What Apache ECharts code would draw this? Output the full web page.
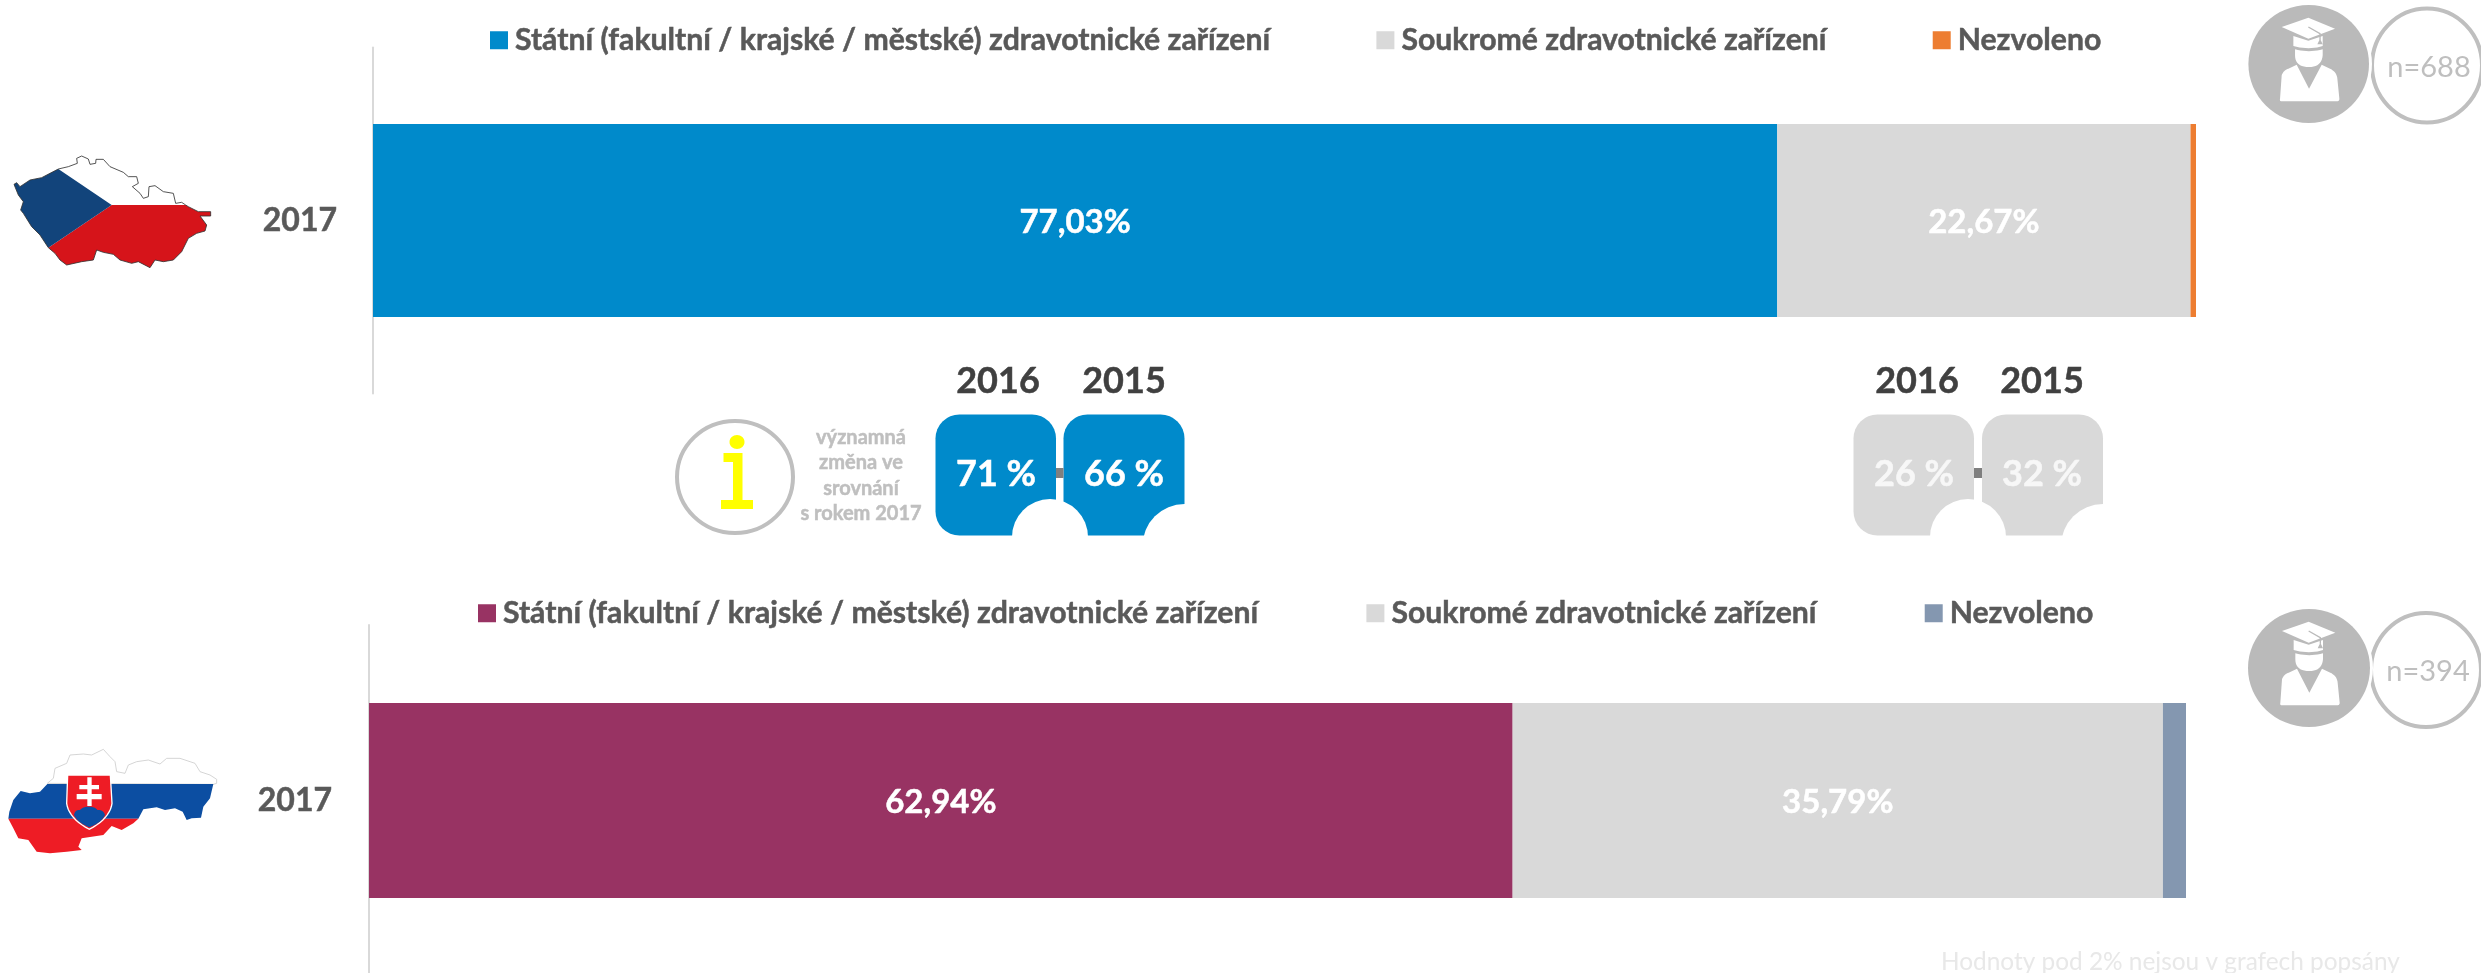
<!DOCTYPE html>
<html lang="cs">
<head>
<meta charset="utf-8">
<title>Zdravotnické zařízení 2017</title>
<style>html,body{margin:0;padding:0;background:#fff}#chart{width:2481px;height:973px}</style>
<script src="https://cdn.jsdelivr.net/npm/echarts@6/dist/echarts.min.js"></script>
</head>
<body>
<div id="chart"></div>
<script>
// ---- data ----
const seriesNames = ['Státní (fakultní / krajské / městské) zdravotnické zařízení', 'Soukromé zdravotnické zařízení', 'Nezvoleno'];
const yearLabels = ['2017'];
const czValues = [77.03, 22.67, 0.30];
const skValues = [62.94, 35.79, 1.27];
const czColors = ['#008ACB', '#D9D9D9', '#ED7D31'];
const skColors = ['#983363', '#D9D9D9', '#8497B0'];
const czSample = 'n=688';
const skSample = 'n=394';
const compareYears = ['2016', '2015'];
const compareState = ['71 %', '66 %'];
const comparePrivate = ['26 %', '32 %'];
const noteLines = ['významná', 'změna ve', 'srovnání', 's rokem 2017'];
const footnote = 'Hodnoty pod 2% nejsou v grafech popsány';

const FONT = 'Lato, Carlito, "Open Sans", sans-serif';
const fmt = v => v.toFixed(2).replace('.', ',') + '%';

function makeSeries(values, colors, axisIndex) {
  return values.map((v, i) => ({
    type: 'bar', name: seriesNames[i], stack: axisIndex === 0 ? 'cz' : 'sk',
    xAxisIndex: axisIndex, yAxisIndex: axisIndex,
    barWidth: axisIndex === 0 ? 193 : 195,
    itemStyle: { color: colors[i] },
    label: {
      show: v >= 2, position: 'inside', offset: [0, 2], color: '#fff',
      fontFamily: FONT, fontWeight: 'bold', fontSize: 33, textBorderColor: '#fff', textBorderWidth: 0.5,
      formatter: p => fmt(p.value)
    },
    data: [v]
  }));
}
function makeLegend(colors, left, top, gap) {
  return {
    left, top, orient: 'horizontal', selectedMode: false,
    itemWidth: 18, itemHeight: 18, itemGap: gap, padding: 0,
    icon: 'rect',
    textStyle: { fontFamily: FONT, fontWeight: 'bold', fontSize: 30.2, color: '#595959', padding: [0, 0, 0, 2], textBorderColor: '#595959', textBorderWidth: 0.5 },
    data: seriesNames.map((n, i) => ({ name: n, itemStyle: { color: colors[i] } }))
  };
}

// ---- decoration (map flags, student badges, comparison tiles) ----
const g = [];
// flatten a small M/L/Q/Z outline into points for the library's polygon element
function outline(d) {
  const toks = d.match(/[MLQZ]|-?[\d.]+/g), out = [];
  let i = 0, cmd = '';
  while (i < toks.length) {
    if (/[MLQZ]/.test(toks[i])) { cmd = toks[i++]; if (cmd === 'Z') continue; }
    if (cmd === 'Q') {
      const p0 = out[out.length - 1], c = [+toks[i], +toks[i + 1]], e = [+toks[i + 2], +toks[i + 3]];
      i += 4;
      for (let k = 1; k <= 10; k++) {
        const t = k / 10, u = 1 - t;
        out.push([u * u * p0[0] + 2 * u * t * c[0] + t * t * e[0], u * u * p0[1] + 2 * u * t * c[1] + t * t * e[1]]);
      }
    } else { out.push([+toks[i], +toks[i + 1]]); i += 2; }
  }
  return out;
}
const path = (d, fill, extra) => ({ type: 'polygon', shape: { points: outline(d) }, style: Object.assign({ fill }, extra || {}) });
const pts2d = a => 'M' + a.map(p => p.join(' ')).join('L') + 'Z';
const txt = (text, x, y, size, fill, weight) => ({
  type: 'text', x, y,
  style: Object.assign(
    { text, fill, font: (weight || 'bold') + ' ' + size + 'px ' + FONT, textAlign: 'center', textVerticalAlign: 'middle' },
    weight ? {} : { stroke: fill, lineWidth: 0.5 }
  )
});

// Czech map
const czWest = [[42,118],[50,113],[60,125],[90,105],[125,98],[150,85],[175,72]];
const czNorth = [[175,72],[205,65],[232,55],[230,40],[245,33],[265,42],[270,58],[287,55],[288,43],[310,43],[330,65],[370,82],[385,95],[410,95],[415,115],[397,125],[420,145],[430,160],[445,155],[447,125],[465,122],[490,140],[520,145],[527,175],[545,172],[557,180]];
const czEast = [[557,180],[565,185],[595,200],[632,200],[632,213],[600,213],[620,240],[615,258],[590,265],[565,280],[545,320],[520,345],[490,350],[465,345],[450,368],[415,350],[395,355],[360,345],[340,328],[310,322],[290,315],[280,345],[245,350],[200,360],[180,345],[165,325],[145,308]];
const czSouthWest = [[145,308],[120,270],[95,245],[70,205],[62,195],[70,170],[55,150],[42,118]];
const apex = [335,180];
g.push({ type: 'group', x: 0, y: 145, scaleX: 1/3, scaleY: 1/3, children: [
  path(pts2d(czNorth.concat([apex])), '#FFFFFF'),
  path(pts2d(czEast.concat([apex])), '#D6141A'),
  path(pts2d(czSouthWest.concat(czWest.slice(1)).concat([apex])), '#12447B'),
  path(pts2d(czWest.concat(czNorth.slice(1), czEast.slice(1), czSouthWest.slice(1))), 'none', { stroke: '#333', lineWidth: 2.5 })
]});

// Slovak map
const skWhite = [[142,130],[160,115],[165,85],[200,70],[210,45],[250,42],[275,45],[310,28],[330,50],[345,65],[350,95],[375,100],[385,75],[410,65],[445,60],[480,72],[500,55],[540,55],[585,70],[600,95],[630,105],[650,118],[650,130],[640,133]];
const skBlue = [[142,132],[640,132],[630,175],[610,200],[603,233],[575,235],[560,240],[548,215],[525,205],[495,210],[470,202],[430,208],[415,236],[25,236],[28,215],[40,180],[62,153],[90,160],[120,155]];
const skRed = [[25,236],[415,236],[400,250],[365,270],[335,258],[310,285],[245,295],[235,320],[245,330],[200,335],[150,340],[110,335],[85,300],[55,295],[40,265]];
g.push({ type: 'group', x: 0, y: 740, scaleX: 1/3, scaleY: 1/3, children: [
  path(pts2d(skWhite), '#FFFFFF', { stroke: '#CCCCCC', lineWidth: 2.5 }),
  path(pts2d(skBlue), '#0C4EA2'),
  path(pts2d(skRed), '#EE1C25'),
  path('M203 105L331 105L336 190Q330 235 268 268Q206 235 200 190Z', '#EE1C25', { stroke: '#FFFFFF', lineWidth: 4 }),
  path('M222 225Q225 208 240 210Q250 200 265 200Q285 200 292 210Q310 208 315 225Q305 248 268 262Q232 248 222 225Z', '#0C4EA2'),
  path('M262 112L275 112L275 135L297 135L297 148L275 148L275 162L305 162L305 178L275 178L275 198L262 198L262 178L230 178L230 162L262 162L262 148L238 148L238 135L262 135Z', '#FFFFFF')
]});

// student badge
function badge(cx, cy, rx, ry, ringCx, ringCy, ringRx, ringRy, label) {
  g.push({ type: 'ellipse', shape: { cx: ringCx, cy: ringCy, rx: ringRx, ry: ringRy }, style: { fill: '#fff', stroke: '#BFBFBF', lineWidth: 4 } });
  g.push({ type: 'ellipse', shape: { cx, cy, rx: rx + 3, ry: ry + 3 }, style: { fill: '#fff' } });
  g.push({ type: 'ellipse', shape: { cx, cy, rx, ry }, style: { fill: '#BABABA' } });
  const s = 1 / 3;
  g.push({ type: 'group', x: cx - 206 * s, y: cy - 191 * s, scaleX: s, scaleY: s, children: [
    path('M125 80L205 52L285 85L205 115Z', '#FFFFFF'),
    path('M160 107L205 121L248 107L248 137Q207 150 160 137Z', '#FFFFFF'),
    path('M165 147Q207 158 248 147L248 165Q245 200 207 200Q165 200 165 165Z', '#FFFFFF'),
    path('M120 295L125 225Q130 210 145 205L170 193L207 265L245 193L270 205Q290 215 292 235L298 295Q298 303 290 303L125 303Q118 303 120 295Z', '#FFFFFF'),
    { type: 'polyline', shape: { points: [[205,80],[240,100],[240,118]] }, style: { fill: 'none', stroke: '#BABABA', lineWidth: 4 } },
    path('M240 115L248 132L232 132Z', '#BABABA')
  ]});
  g.push(txt(label, ringCx + 2, ringCy + 2, 29, '#BFBFBF', 'normal'));
}
badge(2308.7, 64, 60.3, 59, 2427, 65.5, 55, 57, czSample);
badge(2309, 668, 61, 59, 2426, 670, 55, 57, skSample);

// comparison tiles
function tiles(x1, w1, x2, w2, fill, textFill, labels, hx1, hx2, tx1, tx2) {
  const y = 414.5, h = 121;
  g.push({ type: 'rect', shape: { x: x1, y, width: w1, height: h, r: 24 }, style: { fill } });
  g.push({ type: 'rect', shape: { x: x2, y, width: w2, height: h, r: 24 }, style: { fill } });
  g.push({ type: 'rect', shape: { x: x1 + w1, y: 468, width: x2 - x1 - w1, height: 10 }, style: { fill: '#7F7F7F' } });
  g.push({ type: 'circle', shape: { cx: x1 + w1 - 6, cy: 537, r: 38 }, style: { fill: '#fff' } });
  g.push({ type: 'circle', shape: { cx: x2 + w2, cy: 546, r: 42 }, style: { fill: '#fff' } });
  g.push(txt(compareYears[0], hx1, 381.5, 36, '#404040'));
  g.push(txt(compareYears[1], hx2, 381.5, 36, '#404040'));
  g.push(txt(labels[0], tx1, 474, 36, textFill));
  g.push(txt(labels[1], tx2, 474, 36, textFill));
}
tiles(935.5, 120.5, 1063.5, 121, '#008ACB', '#FFFFFF', compareState, 998, 1124, 996, 1124);
tiles(1853.5, 120.5, 1982, 121, '#D9D9D9', '#F7F7F7', comparePrivate, 1917, 2042, 1914, 2042);

// info symbol and note
g.push({ type: 'ellipse', shape: { cx: 735, cy: 477, rx: 58, ry: 56 }, style: { fill: '#fff', stroke: '#BFBFBF', lineWidth: 4 } });
g.push({ type: 'ellipse', shape: { cx: 737, cy: 442, rx: 7.5, ry: 7 }, style: { fill: '#FFFF00' } });
g.push(path('M723.5 453L742.5 453L742.5 500L753 500L753 509L721 509L721 500L733 500L733 462L723.5 462Z', '#FFFF00'));
noteLines.forEach((t, i) => g.push(txt(t, 861, [438, 463, 489, 514][i], 20, '#BFBFBF')));

// footnote
g.push({ type: 'text', x: 1941, y: 962, style: { text: footnote, fill: '#E8E8E8', font: 'normal 24.4px ' + FONT, textAlign: 'left', textVerticalAlign: 'middle' } });

// ---- chart ----
const yearAxis = (idx, margin) => ({
  type: 'category', gridIndex: idx, data: yearLabels, offset: 1,
  axisLine: { show: true, lineStyle: { color: '#D9D9D9', width: 2 } },
  axisTick: { show: false },
  axisLabel: { margin, color: '#595959', fontFamily: FONT, fontWeight: 'bold', fontSize: 32, textBorderColor: '#595959', textBorderWidth: 0.5 }
});
const valueAxis = idx => ({ type: 'value', gridIndex: idx, min: 0, max: 100, show: false });

const chart = echarts.init(document.getElementById('chart'), null, { renderer: 'canvas' });
chart.setOption({
  animation: false,
  backgroundColor: '#fff',
  legend: [makeLegend(czColors, 490, 25, 106), makeLegend(skColors, 478, 598, 108)],
  grid: [
    { left: 373, top: 47.5, width: 1823, height: 346, outerBoundsMode: 'none' },
    { left: 369, top: 625, width: 1817, height: 351, outerBoundsMode: 'none' }
  ],
  xAxis: [valueAxis(0), valueAxis(1)],
  yAxis: [yearAxis(0, 35), yearAxis(1, 36)],
  series: makeSeries(czValues, czColors, 0).concat(makeSeries(skValues, skColors, 1)),
  graphic: { elements: g }
});
</script>
</body>
</html>
